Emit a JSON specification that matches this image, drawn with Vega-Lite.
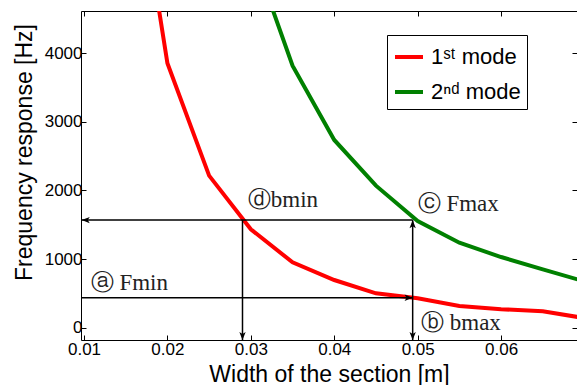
{
  "$schema": "https://vega.github.io/schema/vega-lite/v6.json",
  "width": 496,
  "height": 329,
  "autosize": "none",
  "padding": {"left": 81, "top": 11, "right": 0, "bottom": 45},
  "background": "white",
  "config": {
    "view": {"stroke": "black", "strokeWidth": 1},
    "axis": {
      "grid": false,
      "domain": false,
      "tickColor": "black",
      "tickSize": -5,
      "tickWidth": 1,
      "labelFont": "Liberation Sans",
      "labelFontSize": 17,
      "labelColor": "black",
      "titleFont": "Liberation Sans",
      "titleFontSize": 23,
      "titleFontWeight": "normal",
      "titleColor": "black"
    }
  },
  "datasets": {
    "curves": [
      {"b": 0.015, "f": 7700, "mode": "1ˢᵗ mode"},
      {"b": 0.02, "f": 3854, "mode": "1ˢᵗ mode"},
      {"b": 0.025, "f": 2216, "mode": "1ˢᵗ mode"},
      {"b": 0.03, "f": 1434, "mode": "1ˢᵗ mode"},
      {"b": 0.035, "f": 953, "mode": "1ˢᵗ mode"},
      {"b": 0.04, "f": 695, "mode": "1ˢᵗ mode"},
      {"b": 0.045, "f": 501, "mode": "1ˢᵗ mode"},
      {"b": 0.05, "f": 428, "mode": "1ˢᵗ mode"},
      {"b": 0.055, "f": 318, "mode": "1ˢᵗ mode"},
      {"b": 0.06, "f": 270, "mode": "1ˢᵗ mode"},
      {"b": 0.065, "f": 240, "mode": "1ˢᵗ mode"},
      {"b": 0.07, "f": 140, "mode": "1ˢᵗ mode"},
      {"b": 0.03, "f": 5530, "mode": "2ⁿᵈ mode"},
      {"b": 0.035, "f": 3819, "mode": "2ⁿᵈ mode"},
      {"b": 0.04, "f": 2736, "mode": "2ⁿᵈ mode"},
      {"b": 0.045, "f": 2070, "mode": "2ⁿᵈ mode"},
      {"b": 0.05, "f": 1555, "mode": "2ⁿᵈ mode"},
      {"b": 0.055, "f": 1239, "mode": "2ⁿᵈ mode"},
      {"b": 0.06, "f": 1030, "mode": "2ⁿᵈ mode"},
      {"b": 0.065, "f": 850, "mode": "2ⁿᵈ mode"},
      {"b": 0.07, "f": 675, "mode": "2ⁿᵈ mode"}
    ],
    "segs": [
      {"x": 0.00964, "x2": 0.0494, "y": 1568, "y2": 1568},
      {"x": 0.0494, "x2": 0.0494, "y": 1568, "y2": -179},
      {"x": 0.029, "x2": 0.029, "y": 1568, "y2": -179},
      {"x": 0.00964, "x2": 0.0494, "y": 437, "y2": 437}
    ],
    "arrows": [
      {"x": 0.00972, "y": 1568, "dir": "left"},
      {"x": 0.0494, "y": 437, "dir": "right"},
      {"x": 0.0494, "y": 1568, "dir": "up"},
      {"x": 0.0494, "y": -179, "dir": "down"},
      {"x": 0.029, "y": -179, "dir": "down"}
    ],
    "labels": [
      {"x": 0.02964, "y": 1861, "text": "ⓓbmin"},
      {"x": 0.05, "y": 1799, "text": "ⓒ Fmax"},
      {"x": 0.0108, "y": 647, "text": "ⓐ Fmin"},
      {"x": 0.0504, "y": 64, "text": "ⓑ bmax"}
    ]
  },
  "resolve": {"axis": {"x": "independent", "y": "independent"}},
  "layer": [
    {
      "data": {"name": "curves"},
      "mark": {"type": "line", "strokeWidth": 4, "clip": true},
      "encoding": {
        "x": {"field": "b", "type": "quantitative",
          "scale": {"domain": [0.00964, 0.0691], "nice": false, "zero": false},
          "axis": {"values": [0.01, 0.02, 0.03, 0.04, 0.05, 0.06, 0.07], "format": ".2f", "labelPadding": 6, "title": "Width of the section [m]", "titlePadding": 6}},
        "y": {"field": "f", "type": "quantitative",
          "scale": {"domain": [-179, 4615], "nice": false, "zero": false},
          "axis": {"values": [0, 1000, 2000, 3000, 4000], "format": "d", "labelPadding": 4, "title": "Frequency response [Hz]", "titlePadding": 8, "titleY": 141}},
        "color": {"field": "mode", "type": "nominal",
          "scale": {"domain": ["1ˢᵗ mode", "2ⁿᵈ mode"], "range": ["#ff0000", "#008000"]},
          "legend": {"orient": "none", "legendX": 306, "legendY": 24, "title": null,
            "strokeColor": "black", "fillColor": "white", "padding": 6,
            "symbolType": "stroke", "symbolSize": 784, "symbolStrokeWidth": 4,
            "labelFont": "Liberation Sans", "labelFontSize": 22, "labelColor": "black",
            "rowPadding": 8, "labelOffset": 6, "cornerRadius": 0}}
      }
    },
    {
      "data": {"name": "segs"},
      "mark": {"type": "rule", "color": "black", "strokeWidth": 1.5},
      "encoding": {
        "x": {"field": "x", "type": "quantitative",
          "scale": {"domain": [0.00964, 0.0691], "nice": false, "zero": false},
          "axis": {"orient": "top", "values": [0.01, 0.02, 0.03, 0.04, 0.05, 0.06, 0.07], "labels": false, "title": null}},
        "x2": {"field": "x2"},
        "y": {"field": "y", "type": "quantitative",
          "scale": {"domain": [-179, 4615], "nice": false, "zero": false},
          "axis": {"orient": "right", "values": [0, 1000, 2000, 3000, 4000], "labels": false, "title": null}},
        "y2": {"field": "y2"}
      }
    },
    {
      "data": {"name": "arrows"},
      "mark": {"type": "point", "filled": true, "color": "black", "opacity": 1, "size": 81},
      "encoding": {
        "x": {"field": "x", "type": "quantitative", "scale": {"domain": [0.00964, 0.0691], "nice": false, "zero": false}, "axis": null},
        "y": {"field": "y", "type": "quantitative", "scale": {"domain": [-179, 4615], "nice": false, "zero": false}, "axis": null},
        "shape": {"field": "dir", "type": "nominal", "legend": null,
          "scale": {"domain": ["down", "up", "left", "right"],
            "range": ["M0,0 L-0.7,-1.8 L0,-1.35 L0.7,-1.8 Z", "M0,0 L-0.7,1.8 L0,1.35 L0.7,1.8 Z", "M0,0 L1.8,-0.7 L1.35,0 L1.8,0.7 Z", "M0,0 L-1.8,-0.7 L-1.35,0 L-1.8,0.7 Z"]}}
      }
    },
    {
      "data": {"name": "labels"},
      "mark": {"type": "text", "font": "Liberation Serif", "fontSize": 23, "align": "left", "baseline": "middle", "color": "#222222"},
      "encoding": {
        "x": {"field": "x", "type": "quantitative", "scale": {"domain": [0.00964, 0.0691], "nice": false, "zero": false}, "axis": null},
        "y": {"field": "y", "type": "quantitative", "scale": {"domain": [-179, 4615], "nice": false, "zero": false}, "axis": null},
        "text": {"field": "text"}
      }
    }
  ]
}
